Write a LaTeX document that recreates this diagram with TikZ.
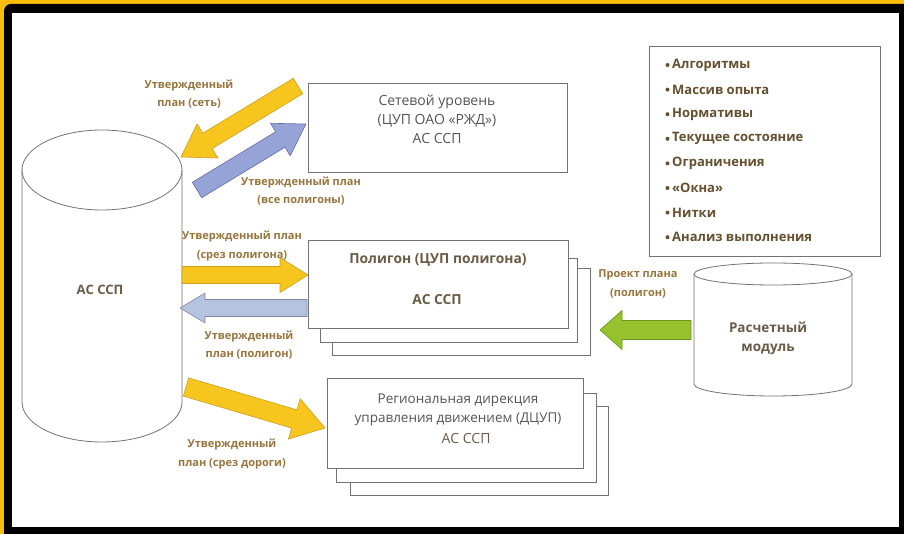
\documentclass[tikz,border=0pt]{standalone}
\usepackage{fontspec}
\setmainfont{Open Sans}
\usetikzlibrary{calc,shapes.geometric}
\definecolor{frameyellow}{RGB}{250,190,10}
\definecolor{lineg}{RGB}{115,115,115}
\definecolor{boxtext}{RGB}{85,85,85}
\definecolor{browntext}{RGB}{105,92,70}
\definecolor{labeltext}{RGB}{150,118,62}
\definecolor{listtext}{RGB}{100,80,48}
\definecolor{ayellow}{RGB}{246,198,30}
\definecolor{ayellowd}{RGB}{205,160,30}
\definecolor{ablue}{RGB}{150,163,214}
\definecolor{ablued}{RGB}{100,108,160}
\definecolor{alblue}{RGB}{182,195,222}
\definecolor{alblued}{RGB}{125,135,160}
\definecolor{agreen}{RGB}{150,194,45}
\definecolor{agreend}{RGB}{110,150,30}
% block arrow: #1 style, #2 tail coord, #3 tip coord, #4 half shaft, #5 half head, #6 head length
\newcommand{\blockarr}[6]{%
  \coordinate (#2-hb) at ($(#3)!#6!(#2)$);
  \draw[#1] ($(#2)!#4!90:(#3)$) -- ($(#2-hb)!#4!90:(#3)$) -- ($(#2-hb)!#5!90:(#3)$)
    -- (#3) -- ($(#2-hb)!#5!-90:(#3)$) -- ($(#2-hb)!#4!-90:(#3)$) -- ($(#2)!#4!-90:(#3)$) -- cycle;}
\begin{document}
\begin{tikzpicture}[x=1pt,y=-1pt,
  boxline/.style={draw=lineg,line width=0.8pt,fill=white},
  boxnode/.style={boxline,anchor=north west,inner sep=0pt},
  lbl/.style={text=labeltext,font=\bfseries\fontsize{11}{18.5}\selectfont,align=center,inner sep=0pt},
  btxt/.style={text=boxtext,font=\fontsize{14}{19}\selectfont,align=center,inner sep=0pt},
  ptxt/.style={text=browntext,font=\bfseries\fontsize{13.8}{19}\selectfont,align=center,inner sep=0pt},
  litem/.style={text=listtext,font=\bfseries\fontsize{13}{15}\selectfont,anchor=west,inner sep=0pt},
  yarr/.style={fill=ayellow,draw=ayellowd,line width=0.6pt,line join=round},
  barr/.style={fill=ablue,draw=ablued,line width=0.6pt,line join=round},
  lbarr/.style={fill=alblue,draw=alblued,line width=0.6pt,line join=round},
  garr/.style={fill=agreen,draw=agreend,line width=0.6pt,line join=round}]
\useasboundingbox (0,0) rectangle (904,534);
% frame
\fill[frameyellow] (0,0) rectangle (904,534);
\fill[black,rounded corners=7pt] (4,4) rectangle (914,544);
\fill[white] (12,13) rectangle (899,527);

% big cylinder
\draw[boxline] (22,170) -- (22,402) arc[start angle=180,end angle=360,x radius=80pt,y radius=40pt] -- (182,170);
\node[boxline,ellipse,minimum width=160pt,minimum height=80pt,inner sep=0pt] (db) at (102,170) {};
\node[text=browntext,font=\bfseries\fontsize{13}{14}\selectfont] (dbt) at (100,290) {АС ССП};

% small cylinder
\draw[boxline] (694,274) -- (694,384) arc[start angle=180,end angle=360,x radius=79pt,y radius=12pt] -- (852,274);
\node[boxline,ellipse,minimum width=158pt,minimum height=22pt,inner sep=0pt] (calc) at (773,274) {};
\node[text=browntext,font=\bfseries\fontsize{13.5}{19}\selectfont,align=center,inner sep=0pt] (calct) at (768,338) {Расчетный\\модуль};

% network box
\node[boxnode,minimum width=259pt,minimum height=89pt] (net) at (308,83) {};
\node[btxt] (nett) at (437,119) {Сетевой уровень\\(ЦУП ОАО «РЖД»)\\АС ССП};

% polygon stack
\node[boxnode,minimum width=258pt,minimum height=87pt] (pol3) at (332,268) {};
\node[boxnode,minimum width=257pt,minimum height=84pt] (pol2) at (320,258) {};
\node[boxnode,minimum width=260pt,minimum height=88pt] (pol) at (308,240) {};
\node[ptxt] (polt1) at (438,260) {Полигон (ЦУП полигона)};
\node[ptxt] (polt2) at (437,300) {АС ССП};

% regional stack
\node[boxnode,minimum width=258pt,minimum height=89pt] (reg3) at (350,406) {};
\node[boxnode,minimum width=260pt,minimum height=89pt] (reg2) at (336,393) {};
\node[boxnode,minimum width=256pt,minimum height=90pt] (reg) at (327,378) {};
\node[btxt,font=\fontsize{13.5}{19}\selectfont] (regt) at (458,410) {Региональная дирекция\\управления движением (ДЦУП)};
\node[btxt,text=browntext] (regt2) at (466,438) {АС ССП};

% list box
\node[boxnode,minimum width=231pt,minimum height=210pt] (list) at (649,46) {};
\foreach \t [count=\i] in {Алгоритмы,Массив опыта,Нормативы,Текущее состояние,Ограничения,«Окна»,Нитки,Анализ выполнения}{
  \fill[listtext] (667.5,{65+24.6*(\i-1)}) circle (2pt);
  \node[litem] (li\i) at (672,{65+24.6*(\i-1)}) {\t};
}

% arrow end points
\coordinate (a1s) at (298,86);  \coordinate (a1e) at (181,157);
\coordinate (a2s) at (197,190); \coordinate (a2e) at (306,124);
\coordinate (a3s) at (182,275); \coordinate (a3e) at (308,275);
\coordinate (a4s) at (307,308); \coordinate (a4e) at (180,308);
\coordinate (a5s) at (186,387); \coordinate (a5e) at (325,428);
\coordinate (a6s) at (691,330); \coordinate (a6e) at (600,330);
\blockarr{yarr}{a1s}{a1e}{9pt}{20pt}{31pt}
\blockarr{barr}{a2s}{a2e}{9pt}{19pt}{30pt}
\blockarr{yarr}{a3s}{a3e}{8.5pt}{17.5pt}{28pt}
\blockarr{lbarr}{a4s}{a4e}{8.5pt}{15pt}{25pt}
\blockarr{yarr}{a5s}{a5e}{9.5pt}{21pt}{32pt}
\blockarr{garr}{a6s}{a6e}{9.5pt}{19.5pt}{22pt}

% labels
\node[lbl] (l1) at (189,94) {Утвержденный\\план (сеть)};
\node[lbl] (l2) at (301,191) {Утвержденный план\\(все полигоны)};
\node[lbl] (l3) at (242,246) {Утвержденный план\\(срез полигона)};
\node[lbl] (l4) at (249,345) {Утвержденный\\план (полигон)};
\node[lbl] (l5) at (232,454) {Утвержденный\\план (срез дороги)};
\node[lbl] (l6) at (638,284) {Проект плана\\(полигон)};
\end{tikzpicture}
\end{document}
